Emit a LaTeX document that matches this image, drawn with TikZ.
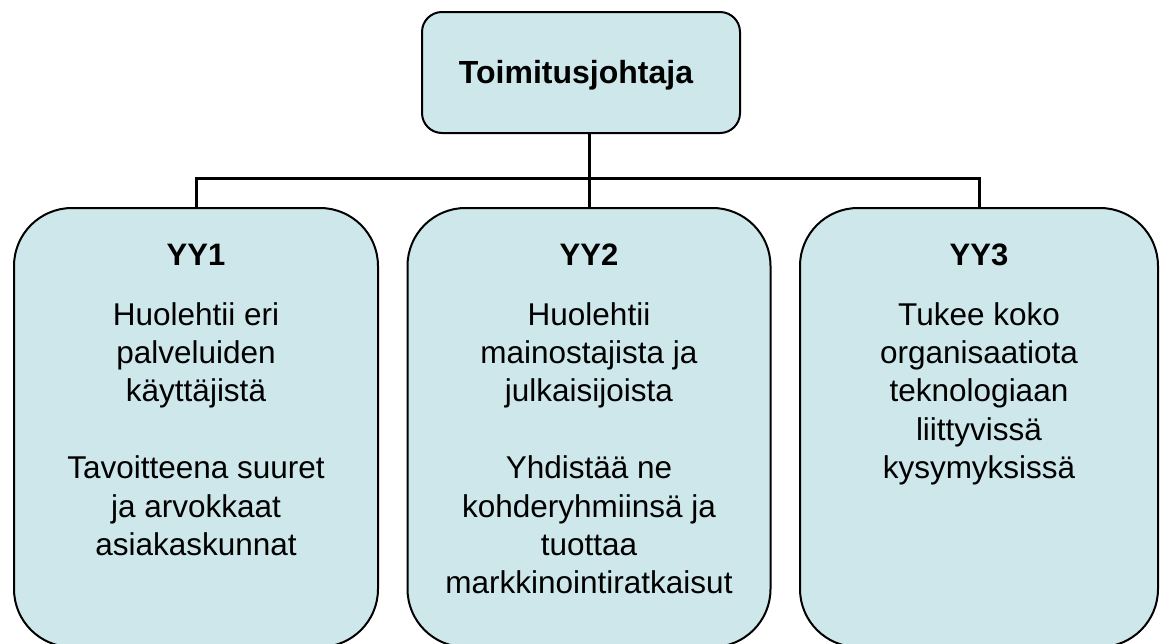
\documentclass[tikz,border=0pt]{standalone}
\usepackage{fontspec}
\setmainfont{Liberation Sans}
\definecolor{boxfill}{RGB}{205,231,235}
\begin{document}
\begin{tikzpicture}[x=1pt,y=-1pt,
  box/.style={draw=black, line width=2pt, fill=boxfill, inner sep=0pt, outer sep=0pt},
  ceobox/.style={box, rounded corners=20pt, minimum width=318pt, minimum height=121pt},
  unitbox/.style={box, rounded corners=58pt, minimum height=439pt},
  title/.style={anchor=base, inner sep=0pt, font=\fontsize{31}{38}\selectfont\bfseries},
  ceotitle/.style={anchor=base, inner sep=0pt, font=\fontsize{32}{38}\selectfont\bfseries},
  body/.style={anchor=north, inner sep=0pt, align=center,
    font=\fontsize{31.5}{38.4}\selectfont},
  link/.style={line width=3pt}]
\clip (0,0) rectangle (1160,643);
\fill[white] (0,0) rectangle (1160,643);

% chief executive
\node[ceobox] (ceo) at (581,72.5) {};
\node[ceotitle] (ceot) at (576,83) {Toimitusjohtaja};

% business units
\node[unitbox, minimum width=364pt] (yy1) at (196,427.5) {};
\node[unitbox, minimum width=363pt] (yy2) at (589,427.5) {};
\node[unitbox, minimum width=358pt] (yy3) at (979,427.5) {};

% connectors
\coordinate (bus) at (589,178);
\draw[link] (ceo.south -| yy2.north) -- (yy2.north);
\draw[link] (yy1.north) |- (bus) -| (yy3.north);

% unit titles
\node[title] (yy1t) at ([yshift=-57pt]yy1.north) {YY1};
\node[title] (yy2t) at ([yshift=-57pt]yy2.north) {YY2};
\node[title] (yy3t) at ([yshift=-57pt]yy3.north) {YY3};

% unit descriptions
\node[body] (yy1b) at ([yshift=-90.1pt]yy1.north)
  {\strut Huolehtii eri\\palveluiden\\käyttäjistä\\[38.4pt]Tavoitteena suuret\\ja arvokkaat\\asiakaskunnat};
\node[body] (yy2b) at ([yshift=-90.1pt]yy2.north)
  {\strut Huolehtii\\mainostajista ja\\julkaisijoista\\[38.4pt]Yhdistää ne\\kohderyhmiinsä ja\\tuottaa\\markkinointiratkaisut};
\node[body] (yy3b) at ([yshift=-90.1pt]yy3.north)
  {\strut Tukee koko\\organisaatiota\\teknologiaan\\liittyvissä\\kysymyksissä};
\end{tikzpicture}
\end{document}
